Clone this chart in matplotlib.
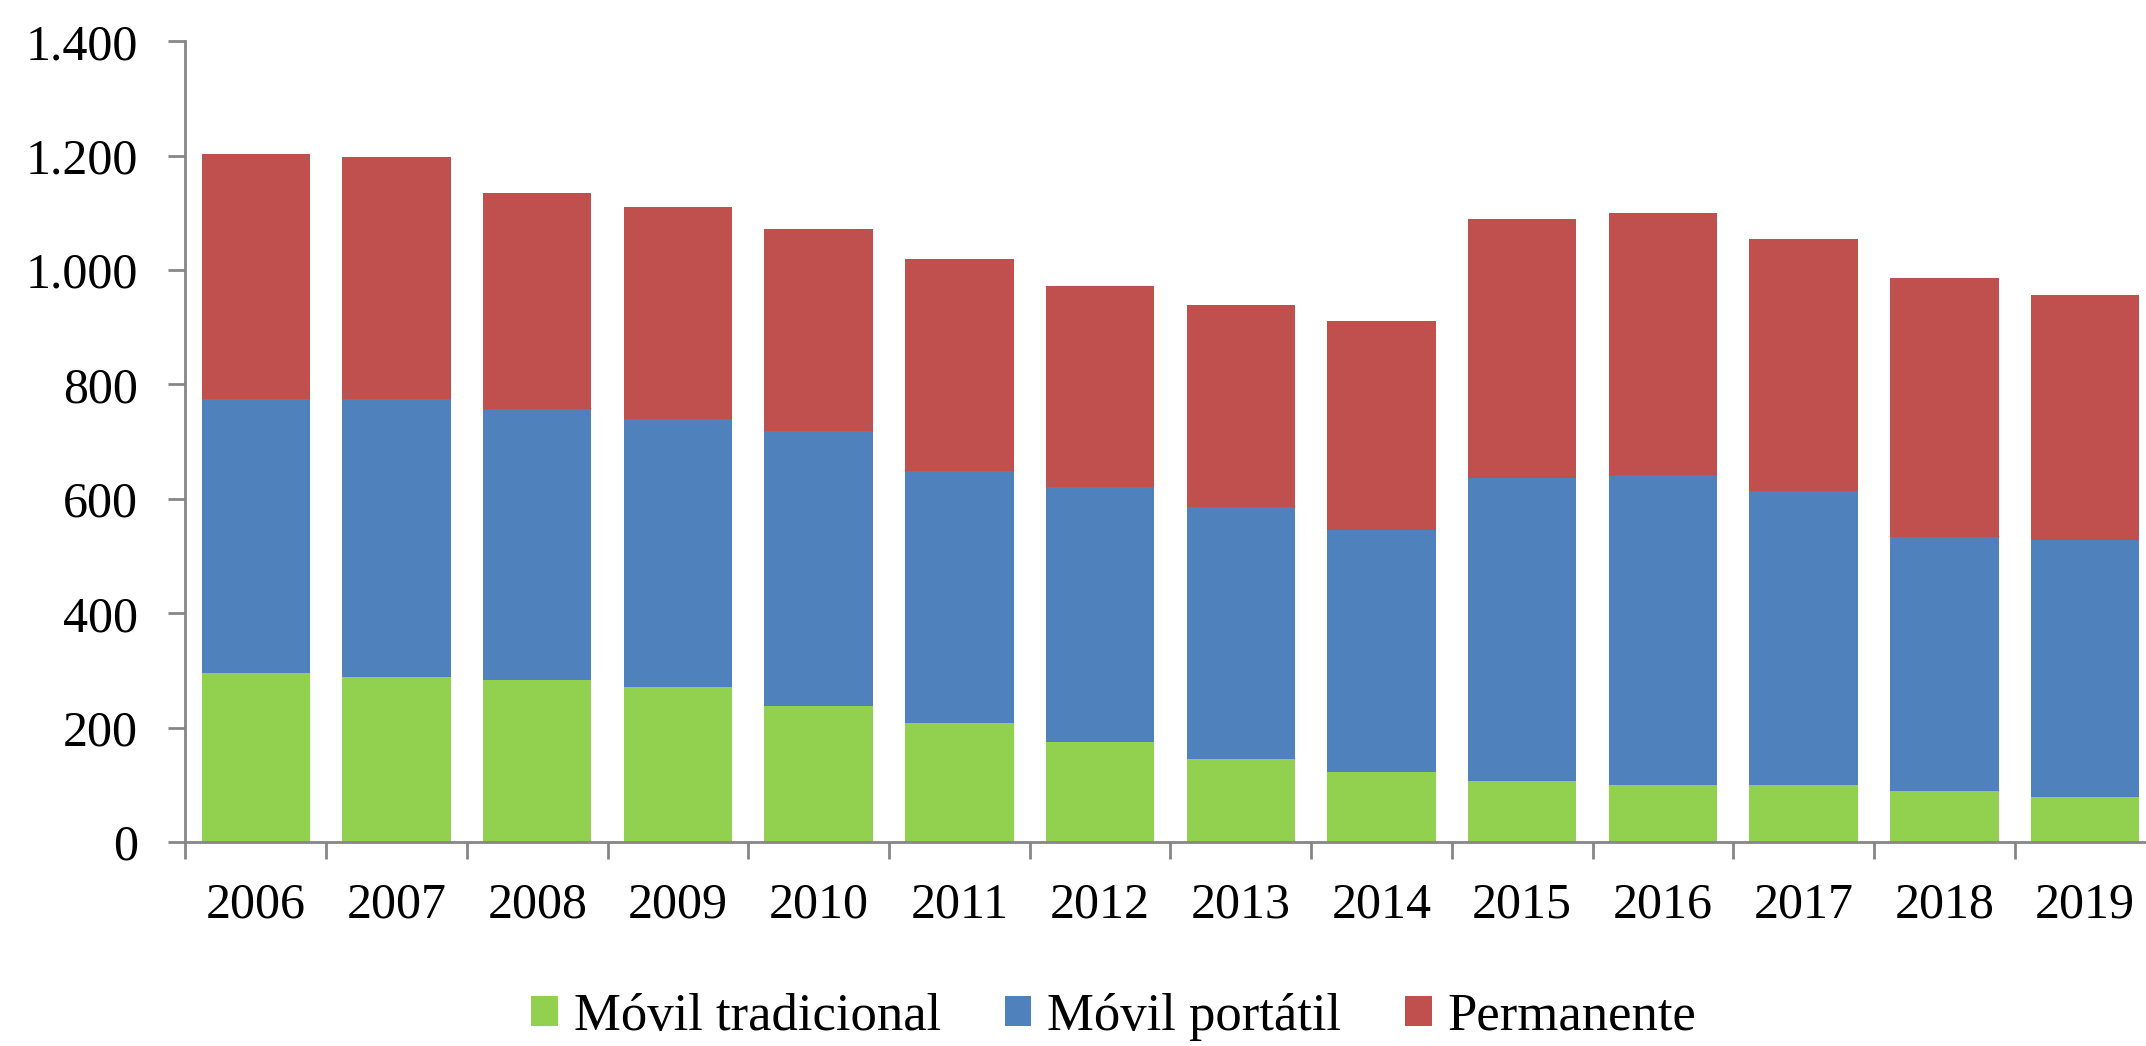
import numpy as np
import matplotlib
matplotlib.use("Agg")
import matplotlib.pyplot as plt
from matplotlib.patches import Patch

plt.rcParams['font.family'] = ['Liberation Serif', 'DejaVu Serif']

# data (stack tops: 295/775/1203 etc.)
years = ['2006', '2007', '2008', '2009', '2010', '2011', '2012',
         '2013', '2014', '2015', '2016', '2017', '2018', '2019']
movil_tradicional = [295, 289, 283, 271, 238, 208, 175, 146, 122, 106, 100, 100, 89, 78]
movil_portatil = [480, 486, 474, 469, 480, 440, 445, 439, 423, 530, 542, 514, 445, 450]
permanente = [428, 422, 377, 371, 353, 372, 353, 354, 366, 453, 458, 441, 452, 428]

series_names = ['Móvil tradicional', 'Móvil portátil', 'Permanente']
series_colors = ['#92D050', '#4F81BD', '#C0504D']

y_ticks = [0, 200, 400, 600, 800, 1000, 1200, 1400]
y_labels = ['0', '200', '400', '600', '800', '1.000', '1.200', '1.400']

fig = plt.figure(figsize=(21.46, 10.46), dpi=100)
ax = fig.add_axes([0.0864, 0.195, 0.918, 0.7655])

x = np.arange(len(years))
bottom = np.zeros(len(years))
for vals, color in zip([movil_tradicional, movil_portatil, permanente], series_colors):
    ax.bar(x, vals, width=0.77, bottom=bottom, color=color, linewidth=0)
    bottom += np.array(vals)

ax.set_xlim(-0.5, len(years) - 0.5)
ax.set_ylim(0, 1400)

ax.set_yticks(y_ticks)
ax.set_yticklabels(y_labels)

# ticks at category boundaries, labels at the centres
ax.set_xticks(np.arange(-0.5, len(years), 1))
ax.set_xticklabels([])
ax.set_xticks(x, minor=True)
ax.set_xticklabels(years, minor=True)

gray = '#868686'
for side in ['top', 'right']:
    ax.spines[side].set_visible(False)
for side in ['left', 'bottom']:
    ax.spines[side].set_color(gray)
    ax.spines[side].set_linewidth(2)

ax.tick_params(axis='y', which='major', direction='out', length=12, width=2,
               color=gray, labelsize=36, pad=22)
ax.tick_params(axis='x', which='major', direction='out', length=12, width=2,
               color=gray)
ax.tick_params(axis='x', which='minor', length=0, labelsize=36, pad=29)

handles = [Patch(facecolor=c, edgecolor='none') for c in series_colors]
fig.legend(handles, series_names, loc='center', bbox_to_anchor=(0.519, 0.028),
           ncol=3, frameon=False, fontsize=38, handlelength=0.51,
           handleheight=0.51, handletextpad=0.3, columnspacing=1.2)

fig.savefig('out.png', dpi=100)
